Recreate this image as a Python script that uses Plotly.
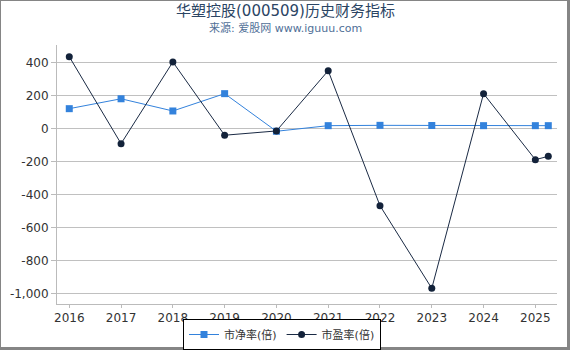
import plotly.graph_objects as go

years = [2016, 2017, 2018, 2019, 2020, 2021, 2022, 2023, 2024, 2025, 2025.25]
pb = [119, 179, 105, 210, -18, 16, 18, 17, 16, 16, 16]
pe = [434, -93, 402, -42, -16, 349, -469, -970, 210, -190, -170]
tick_years = [2016, 2017, 2018, 2019, 2020, 2021, 2022, 2023, 2024, 2025]
y_ticks = [400, 200, 0, -200, -400, -600, -800, -1000]
y_tick_text = ["400", "200", "0", "-200", "-400", "-600", "-800", "-1,000"]

font_family = "DejaVu Sans, Noto Sans CJK SC, sans-serif"

fig = go.Figure()
fig.add_trace(go.Scatter(
    x=years, y=pb, name="市净率(倍)", mode="lines+markers",
    line=dict(color="#3382dc", width=1),
    marker=dict(symbol="square", size=7, color="#3382dc"),
))
fig.add_trace(go.Scatter(
    x=years, y=pe, name="市盈率(倍)", mode="lines+markers",
    line=dict(color="#1a2a44", width=1),
    marker=dict(symbol="circle", size=7, color="#13223a"),
))

W, H = 570, 350
L, R, T, B = 57, 557, 45, 304
pw, ph = R - L, B - T

def px(x):
    return (x - L) / pw

def py(y):
    return (B - y) / ph

border = "#858585"
shapes = [
    dict(type="rect", xref="paper", yref="paper", x0=px(0), x1=px(1), y0=py(350), y1=py(0), fillcolor=border, line=dict(width=0), layer="above"),
    dict(type="rect", xref="paper", yref="paper", x0=px(0), x1=px(570), y0=py(1), y1=py(0), fillcolor=border, line=dict(width=0), layer="above"),
    dict(type="rect", xref="paper", yref="paper", x0=px(567), x1=px(570), y0=py(350), y1=py(0), fillcolor=border, line=dict(width=0), layer="above"),
    dict(type="rect", xref="paper", yref="paper", x0=px(0), x1=px(570), y0=py(350), y1=py(347), fillcolor=border, line=dict(width=0), layer="above"),
]

fig.update_layout(
    width=W, height=H,
    margin=dict(l=L, r=W - R, t=T, b=H - B, pad=0, autoexpand=False),
    paper_bgcolor="white", plot_bgcolor="white",
    font=dict(family=font_family, size=12, color="#333333"),
    showlegend=True,
    legend=dict(
        orientation="h", xref="container", yref="container",
        x=282 / W, xanchor="center", y=1 - 350 / H, yanchor="bottom",
        bordercolor="#000000", borderwidth=1, bgcolor="white",
        font=dict(size=11, color="#333333"),
        itemwidth=30, tracegroupgap=0,
    ),
    shapes=shapes,
    annotations=[
        dict(text="华塑控股(000509)历史财务指标", xref="paper", yref="paper",
             x=px(285), y=py(11), xanchor="center", yanchor="middle", showarrow=False,
             font=dict(size=15, color="#2b4564", family=font_family)),
        dict(text="来源: 爱股网 www.iguuu.com", xref="paper", yref="paper",
             x=px(285), y=py(28), xanchor="center", yanchor="middle", showarrow=False,
             font=dict(size=11, color="#4f6f97", family=font_family)),
    ],
)

fig.update_xaxes(
    range=[2016 - (69.3 - L) / 51.9, 2025 + (R - 535.3) / 51.9],
    tickvals=tick_years, ticktext=[str(y) for y in tick_years],
    showgrid=False, zeroline=False,
    showline=True, linecolor="#bbbbbb", linewidth=1,
    ticks="outside", ticklen=3, tickcolor="#bbbbbb",
    tickfont=dict(size=12, color="#333333"),
)
fig.update_yaxes(
    range=[(128.3 - B) / 0.165, (128.3 - T) / 0.165],
    tickvals=y_ticks, ticktext=y_tick_text,
    showgrid=True, gridcolor="#c0c0c0", gridwidth=1,
    zeroline=False,
    showline=True, linecolor="#bbbbbb", linewidth=1,
    ticks="outside", ticklen=5, tickcolor="#bbbbbb",
    tickfont=dict(size=12, color="#333333"),
)

fig.write_html("out.html")
